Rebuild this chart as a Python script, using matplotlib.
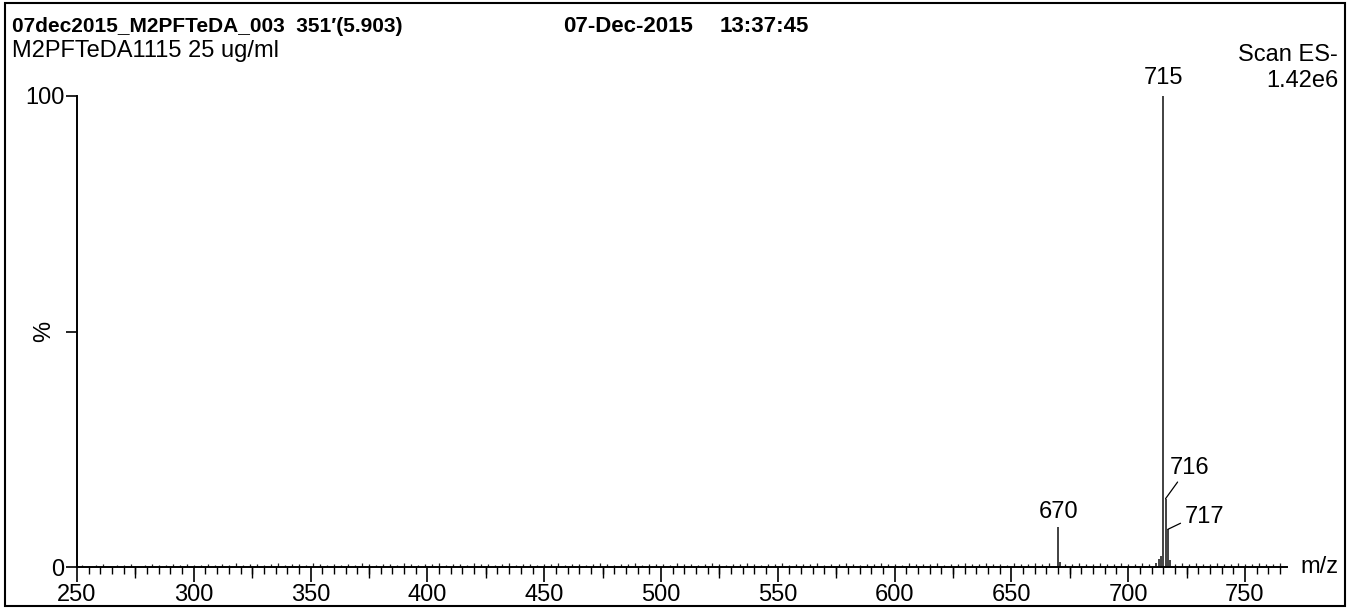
import matplotlib
matplotlib.use("Agg")
import matplotlib.pyplot as plt
from matplotlib.patches import Rectangle
from matplotlib.ticker import MultipleLocator

plt.rcParams['font.family'] = ['Liberation Sans', 'DejaVu Sans']

# main peaks (m/z, % of base peak)
peak_mz = [670, 671, 712, 713, 714, 715, 716, 717, 718]
peak_int = [8.5, 1.0, 0.9, 1.7, 2.4, 100.0, 14.5, 8.0, 1.5]

# labelled peaks
label_mz = [670, 715, 716, 717]

# baseline noise
noise_mz = [252, 255, 258, 261, 264, 267, 270, 273, 276, 279, 282, 285, 288,
            291, 294, 297, 300, 303, 306, 309, 312, 315, 318, 321, 324, 327,
            330, 333, 336, 339, 342, 345, 348, 351, 354, 357, 360, 363, 366,
            369, 372, 375, 378, 381, 384, 387, 390, 393, 396, 399, 402, 405,
            408, 411, 414, 417, 420, 423, 426, 429, 432, 435, 438, 441, 444,
            447, 450, 453, 456, 459, 462, 465, 468, 471, 474, 477, 480, 483,
            486, 489, 492, 495, 498, 501, 504, 507, 510, 513, 516, 519, 522,
            525, 528, 531, 534, 537, 540, 543, 546, 549, 552, 555, 558, 561,
            564, 567, 570, 573, 576, 579, 582, 585, 588, 591, 594, 597, 600,
            603, 606, 609, 612, 615, 618, 621, 624, 627, 630, 633, 636, 639,
            642, 645, 648, 651, 654, 657, 660, 663, 666, 673, 676, 679, 682,
            685, 688, 691, 694, 697, 700, 703, 706, 709, 720, 723, 726,
            729, 732, 735, 738, 741, 744, 747, 750, 753, 756, 759, 762, 765]
noise_int = [0.5, 0.3, 0.4, 0.6, 0.3, 0.5, 0.4, 0.7, 0.3, 0.5, 0.6, 0.4, 0.5,
             0.7, 0.4, 0.6, 0.5, 0.4, 0.7, 0.5, 0.6, 0.4, 0.8, 0.5, 0.6, 0.7,
             0.5, 0.6, 0.8, 0.5, 0.7, 0.6, 0.5, 0.8, 0.6, 0.5, 0.7, 0.4, 0.6,
             0.5, 0.8, 0.6, 0.5, 0.7, 0.6, 0.5, 0.8, 0.6, 0.5, 0.7, 0.6, 0.9,
             0.5, 0.7, 0.6, 0.5, 0.8, 0.6, 0.7, 0.5, 0.6, 0.8, 0.5, 0.7, 0.6,
             0.5, 0.7, 0.6, 0.8, 0.5, 0.6, 0.7, 0.5, 0.6, 0.8, 0.6, 0.5, 0.7,
             0.6, 0.8, 0.5, 0.6, 0.7, 0.6, 0.5, 0.8, 0.6, 0.7, 0.5, 0.6, 0.8,
             0.6, 0.5, 0.7, 0.6, 0.8, 0.6, 0.5, 0.7, 0.6, 0.8, 0.5, 0.6, 0.7,
             0.6, 0.8, 0.5, 0.7, 0.6, 0.8, 0.6, 0.5, 0.7, 0.6, 0.8, 0.6, 0.7,
             0.5, 0.8, 0.6, 0.7, 0.6, 0.8, 0.5, 0.7, 0.6, 0.9, 0.7, 0.6, 0.8,
             0.6, 0.7, 0.5, 0.8, 0.6, 0.7, 0.9, 0.6, 0.8, 0.7, 0.6, 0.8, 0.7,
             0.6, 0.8, 0.7, 0.6, 0.9, 0.7, 0.6, 0.8, 0.7, 0.6, 0.8, 0.6,
             0.8, 0.7, 0.6, 0.8, 0.7, 0.6, 0.8, 0.7, 0.6, 0.8, 0.7, 0.6, 0.8]

title_left = "07dec2015_M2PFTeDA_003  351\u2032(5.903)"
title_date = "07-Dec-2015"
title_time = "13:37:45"
sample_name = "M2PFTeDA1115 25 ug/ml"
scan_info = "Scan ES-"
base_intensity = "1.42e6"

W, H = 1350, 610
fig = plt.figure(figsize=(W / 100, H / 100), dpi=100)

# axes placed in pixel terms of the original printout
x0, x1 = 77, 1287
y0, y1 = 567, 96
ax = fig.add_axes([x0 / W, 1 - y0 / H, (x1 - x0) / W, (y0 - y1) / H])

ax.vlines(noise_mz, 0, noise_int, color='#222222', lw=0.9)
ax.vlines(peak_mz, 0, peak_int, color='#333333', lw=1.3, clip_on=False)

ax.set_xlim(250, 768)
ax.set_ylim(0, 100)

for s in ['top', 'right']:
    ax.spines[s].set_visible(False)
ax.spines['left'].set_linewidth(1.4)
ax.spines['bottom'].set_linewidth(1.4)

ax.xaxis.set_major_locator(MultipleLocator(50))
ax.xaxis.set_minor_locator(MultipleLocator(5))
ax.set_yticks([0, 50, 100])
ax.set_yticklabels(['0', '', '100'])
ax.tick_params(axis='x', which='major', length=11, width=1.2, labelsize=17, pad=1)
ax.tick_params(axis='x', which='minor', length=5, width=1.0)
ax.tick_params(axis='y', length=8, width=1.2, labelsize=17, pad=1)

# medium ticks halfway between the labelled ones
sec = ax.secondary_xaxis('bottom')
sec.set_xticks([275, 325, 375, 425, 475, 525, 575, 625, 675, 725])
sec.tick_params(length=8, width=1.0, labelbottom=False)
sec.spines['bottom'].set_visible(False)

ax.text(-0.018, 0.5, '%', transform=ax.transAxes, rotation=90,
        ha='right', va='center', fontsize=17)
ax.text(1.011, 0.0, 'm/z', transform=ax.transAxes, ha='left', va='center',
        fontsize=17)

lab = dict(fontsize=17, color='black', annotation_clip=False)
hts = dict(zip(peak_mz, peak_int))
ax.annotate(str(label_mz[0]), (label_mz[0], hts[label_mz[0]]),
            xytext=(0, 3), textcoords='offset points', ha='center', va='bottom', **lab)
ax.annotate(str(label_mz[1]), (label_mz[1], hts[label_mz[1]]),
            xytext=(0, 5), textcoords='offset points', ha='center', va='bottom', **lab)
ax.annotate(str(label_mz[2]), (label_mz[2], hts[label_mz[2]]),
            xytext=(3, 14), textcoords='offset points', ha='left', va='bottom',
            arrowprops=dict(arrowstyle='-', color='black', lw=0.9, relpos=(0.25, 0),
                            shrinkA=0, shrinkB=0), **lab)
ax.annotate(str(label_mz[3]), (label_mz[3], hts[label_mz[3]]),
            xytext=(12, 1), textcoords='offset points', ha='left', va='bottom',
            arrowprops=dict(arrowstyle='-', color='black', lw=0.9, relpos=(0, 0.3),
                            shrinkA=1, shrinkB=0), **lab)

# header
fig.text(12 / W, 1 - 26 / H, title_left, fontsize=15, fontweight='bold',
         va='center', ha='left')
fig.text(563 / W, 1 - 26 / H, title_date, fontsize=16, fontweight='bold',
         va='center', ha='left')
fig.text(720 / W, 1 - 26 / H, title_time, fontsize=16, fontweight='bold',
         va='center', ha='left')
fig.text(12 / W, 1 - 51 / H, sample_name, fontsize=17, va='center', ha='left')
fig.text(1338 / W, 1 - 55 / H, scan_info, fontsize=17, va='center', ha='right')
fig.text(1338 / W, 1 - 81 / H, base_intensity, fontsize=17, va='center', ha='right')

# printout frame
fig.add_artist(Rectangle((5 / W, 4 / H), 1340 / W, 603 / H, transform=fig.transFigure,
                         fill=False, lw=1.5, edgecolor='black'))

fig.savefig('out.png', dpi=100)
